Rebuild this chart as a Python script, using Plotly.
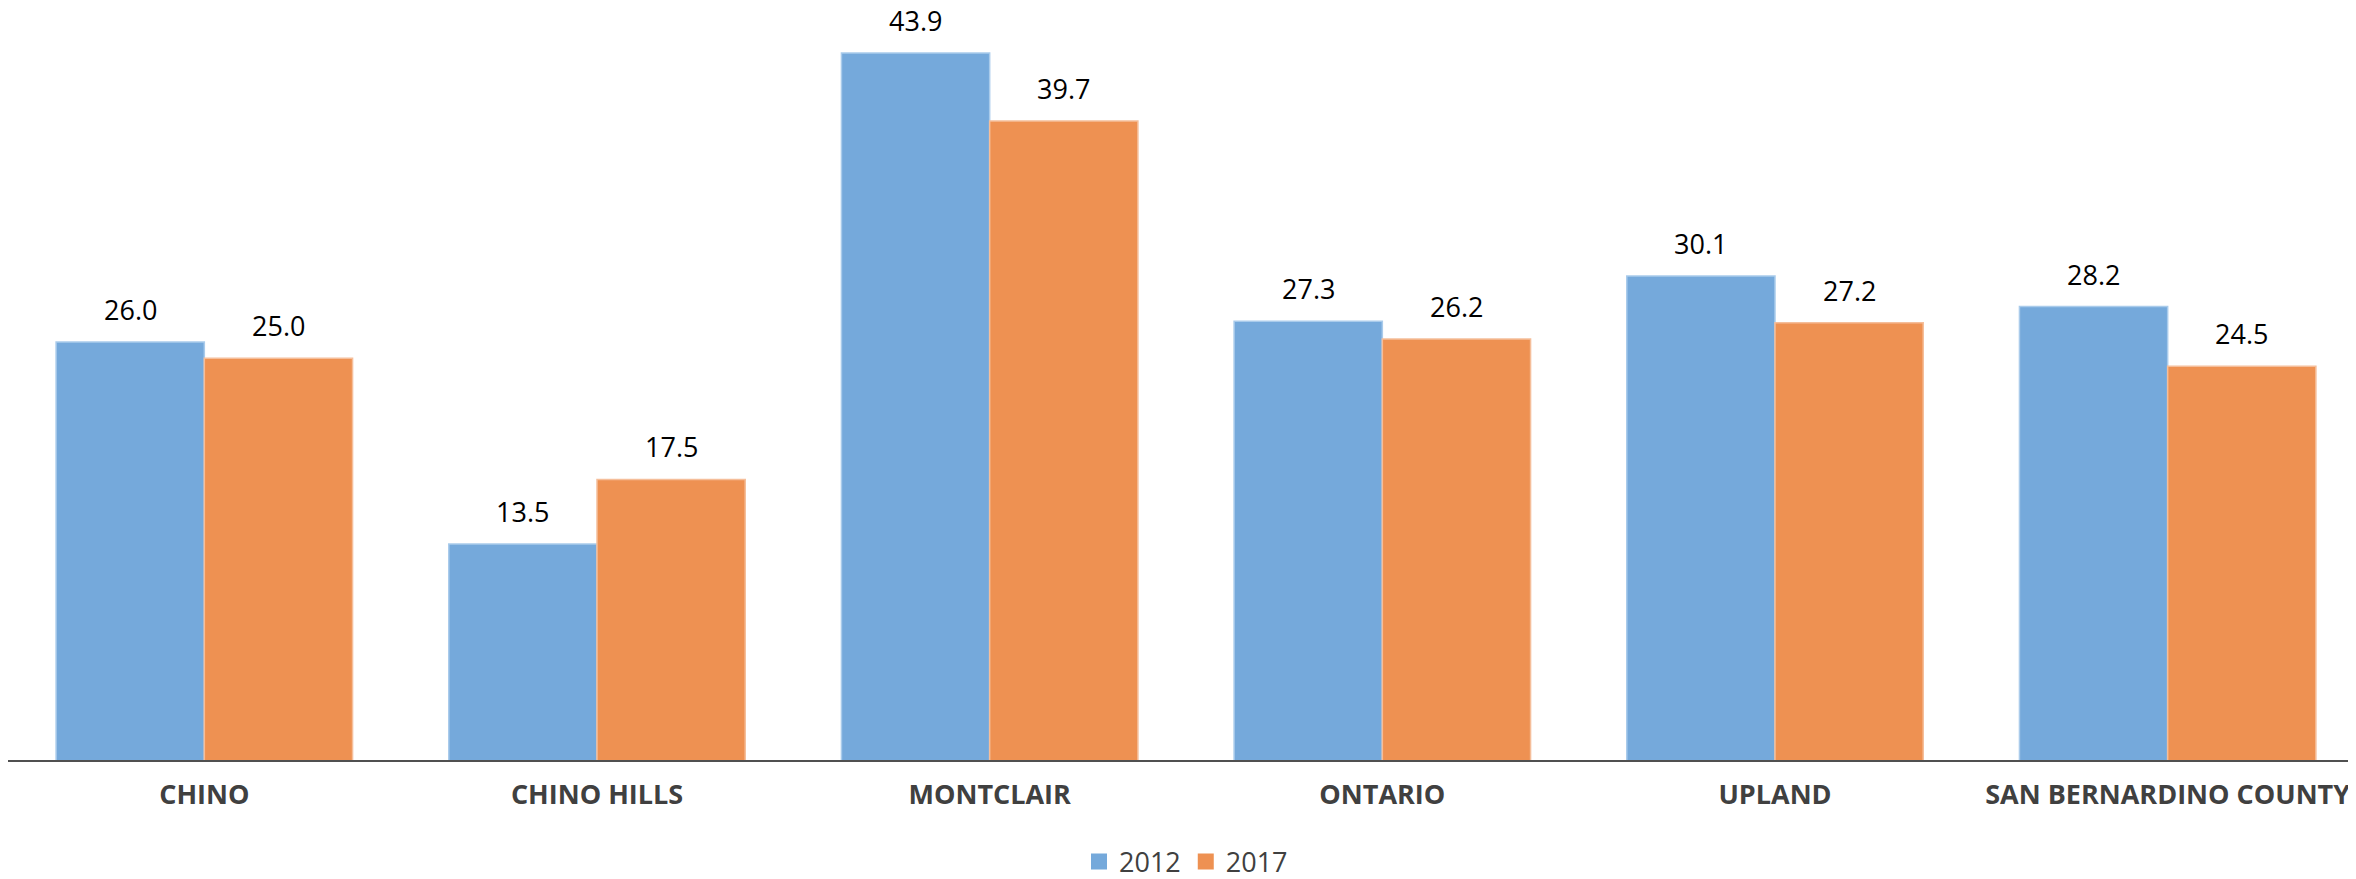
import plotly.graph_objects as go

categories = ["CHINO", "CHINO HILLS", "MONTCLAIR", "ONTARIO", "UPLAND", "SAN BERNARDINO COUNTY"]
series_names = ["2012", "2017"]
values_2012 = [26.0, 13.5, 43.9, 27.3, 30.1, 28.2]
values_2017 = [25.0, 17.5, 39.7, 26.2, 27.2, 24.5]

colors = ["#75A9DB", "#EE9152"]
edge_colors = ["#A9CBEB", "#F5BE9A"]

W, H = 2356, 879
margin = dict(l=0, r=0, t=0, b=118)
bargap = 0.245
font_family = "'Open Sans', sans-serif"

fig = go.Figure()
all_vals = [values_2012, values_2017]
for name, vals, c, ec in zip(series_names, all_vals, colors, edge_colors):
    fig.add_trace(go.Bar(
        x=categories, y=vals, name=name,
        marker=dict(color=c, line=dict(color=ec, width=1.5)),
        showlegend=False,
    ))
    # legend proxy with a larger square swatch
    fig.add_trace(go.Scatter(
        x=[None], y=[None], mode="markers", name=name,
        marker=dict(symbol="square", size=17, color=c),
        showlegend=True,
    ))

plot_w = W - margin["l"] - margin["r"]
cat_w = plot_w / len(categories)
bar_w = cat_w * (1 - bargap) / 2
annotations = []
for j, vals in enumerate(all_vals):
    for cat, v in zip(categories, vals):
        annotations.append(dict(
            x=cat, y=v, xref="x", yref="y", text=f"{v:.1f}",
            showarrow=False, xshift=(j - 0.5) * bar_w, yshift=12,
            yanchor="bottom", font=dict(family=font_family, size=27, color="#000000"),
        ))

# category axis baseline drawn over the bar bottoms (at y = 0)
shapes = [dict(type="line", xref="paper", yref="y", x0=0, x1=1, y0=0, y1=0,
               line=dict(color="#505050", width=4), layer="above")]

fig.update_layout(
    width=W, height=H, margin=margin,
    paper_bgcolor="white", plot_bgcolor="white",
    barmode="group", bargap=bargap, bargroupgap=0,
    font=dict(family=font_family),
    annotations=annotations, shapes=shapes,
    legend=dict(orientation="h", x=0.5, xanchor="center", y=-0.1327, yanchor="middle",
                font=dict(size=27, color="#404040", family=font_family),
                itemwidth=30, tracegroupgap=0),
    xaxis=dict(showline=False, showgrid=False, zeroline=False,
               ticks="", ticklabelstandoff=14,
               tickfont=dict(size=27, color="#404040", family=font_family, weight="bold"),
               range=[-0.5, 5.5]),
    yaxis=dict(visible=False, range=[0, 46.69], showgrid=False, zeroline=False),
)

fig.write_html("out.html")
